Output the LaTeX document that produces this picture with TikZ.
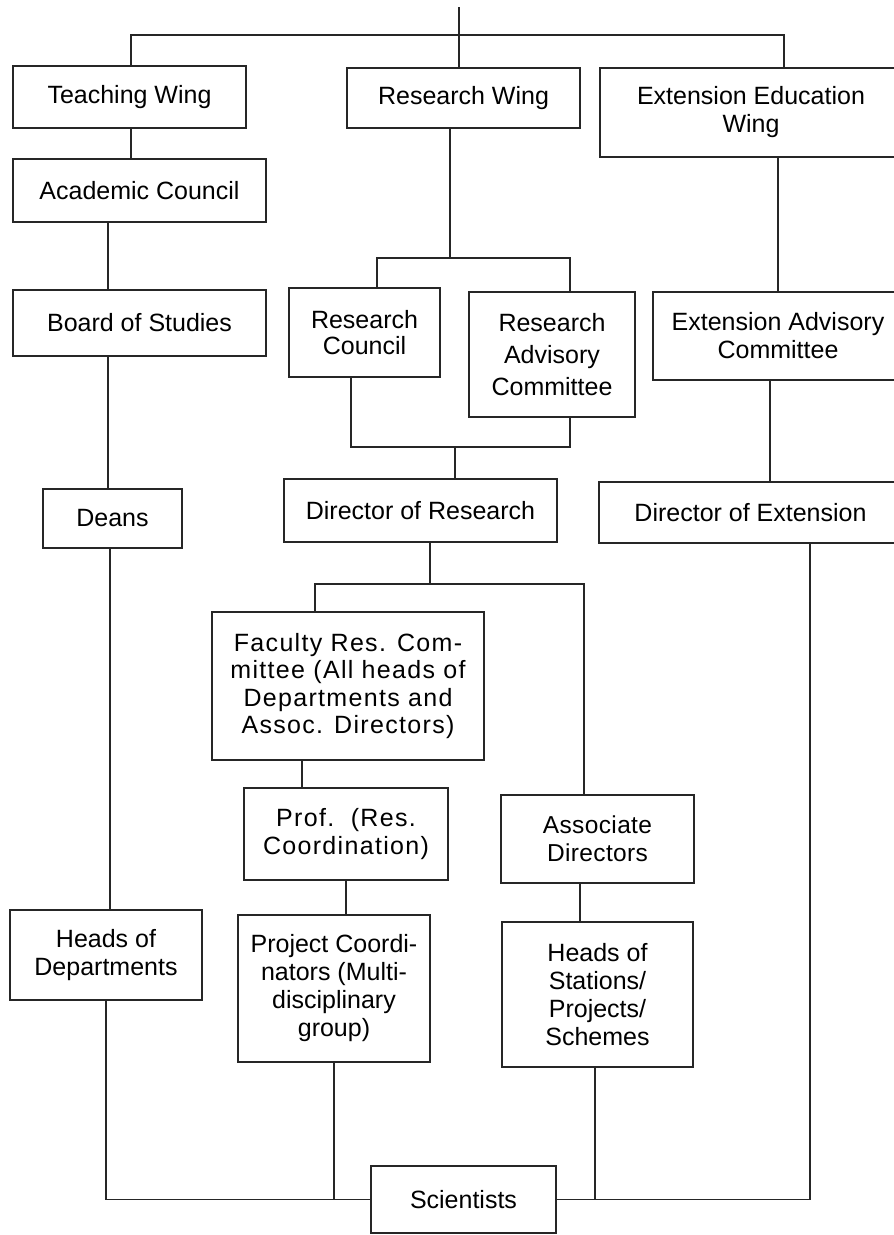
\documentclass[tikz,border=0pt]{standalone}
\usepackage{fontspec}
\setmainfont{Liberation Sans}
\newfontfamily\widefont[LetterSpace=1.5]{Liberation Sans}
\newfontfamily\widerfont[LetterSpace=5.3]{Liberation Sans}
\begin{document}
\begin{tikzpicture}[x=1pt,y=-1pt,
  box/.style={draw=black!85, line width=1.3pt, inner sep=0pt, align=center,
    font=\fontsize{25}{28}\selectfont},
  wbox/.style={box, font=\widefont\fontsize{24.5}{28}\selectfont},
  wwbox/.style={box, font=\widerfont\fontsize{25}{28}\selectfont},
  link/.style={draw=black!85, line width=1.2pt}]
\fill[white] (0,0) rectangle (894,1235);
\useasboundingbox (0,0) rectangle (894,1235);
\clip (0,0) rectangle (894,1235);
% left column
\node[box, minimum width=233, minimum height=62] (tw) at (129.5,97) {Teaching Wing};
\node[box, minimum width=253, minimum height=63] (ac) at (139.5,190.5) {Academic Council};
\node[box, minimum width=253, minimum height=66] (bs) at (139.5,323) {Board of Studies};
\node[box, minimum width=139, minimum height=59] (dn) at (112.5,518.5) {Deans};
\node[box, minimum width=192, minimum height=90] (hd) at (106,955) {Heads of\\Departments};
% middle column
\node[box, minimum width=233, minimum height=60] (rw) at (463.5,98) {Research Wing};
\node[box, minimum width=151, minimum height=89, font=\fontsize{25}{26}\selectfont] (rc) at (364.5,332.5) {Research\\Council};
\node[box, minimum width=166, minimum height=125] (rac) at (552,354.5) {Research\\[4pt]Advisory\\[4pt]Committee};
\node[box, minimum width=273, minimum height=63] (dr) at (420.5,510.5) {Director of Research};
\node[wwbox, minimum width=272, minimum height=148, font=\widerfont\fontsize{25}{27.5}\selectfont] (frc) at (348,686) {Faculty Res. Com-\\mittee (All heads of\\Departments and\\Assoc. Directors)};
\node[wwbox, minimum width=204, minimum height=92] (prof) at (346,834) {Prof.\ \ (Res.\\Coordination)};
\node[wbox, minimum width=193, minimum height=88] (ad) at (597.5,839) {Associate\\Directors};
\node[box, minimum width=192, minimum height=147] (pc) at (334,988.5) {Project Coordi-\\nators (Multi-\\disciplinary\\group)};
\node[box, minimum width=191, minimum height=145] (hs) at (597.5,994.5) {Heads of\\Stations/\\Projects/\\Schemes};
\node[box, minimum width=185, minimum height=67] (sc) at (463.5,1199.5) {Scientists};
% right column (runs off the page edge)
\node[box, minimum width=302, minimum height=89] (ew) at (751,112.5) {Extension Education\\Wing};
\node[box, minimum width=250, minimum height=88] (eac) at (778,336) {Extension Advisory\\Committee};
\node[box, minimum width=303, minimum height=61] (de) at (750.5,512.5) {Director of Extension};
% connectors
\coordinate (top) at (459,7);
\coordinate (j1) at (459,35);
\draw[link] (top) -- (j1);
\draw[link] ([xshift=1.5pt]tw.north) |- (j1) -| ([xshift=33pt]ew.north);
\draw[link] (j1) -- (j1 |- rw.north);
\draw[link] ([xshift=1.5pt]tw.south) -- ([xshift=1.5pt]tw.south |- ac.north);
\draw[link] ([xshift=-31.5pt]ac.south) -- ([xshift=-31.5pt]bs.north);
\draw[link] ([xshift=-31.5pt]bs.south) -- ([xshift=-31.5pt]bs.south |- dn.north);
\draw[link] ([xshift=-2.5pt]dn.south) -- ([xshift=-2.5pt]dn.south |- hd.north);
\draw[link] (hd.south) |- (sc.west);
\coordinate (j2) at (450,258);
\draw[link] ([xshift=-13.5pt]rw.south) -- (j2);
\draw[link] ([xshift=12.5pt]rc.north) |- (j2) -| ([xshift=18pt]rac.north);
\draw[link] (ew.south -| eac.north) -- (eac.north);
\draw[link] ([xshift=-8pt]eac.south) -- ([xshift=-8pt]eac.south |- de.north);
\draw[link] ([xshift=59.5pt]de.south) |- (sc.east);
\coordinate (j3) at (455,447);
\draw[link] ([xshift=-13.5pt]rc.south) |- (j3) -| ([xshift=18pt]rac.south);
\draw[link] (j3) -- (j3 |- dr.north);
\coordinate (j4) at (430,584);
\draw[link] ([xshift=9.5pt]dr.south) -- (j4);
\draw[link] ([xshift=-33pt]frc.north) |- (j4) -| ([xshift=-13.5pt]ad.north);
\draw[link] ([xshift=-46pt]frc.south) -- ([xshift=-46pt]frc.south |- prof.north);
\draw[link] (prof.south) -- (prof.south |- pc.north);
\draw[link] (pc.south) |- (sc.west);
\draw[link] ([xshift=-17.5pt]ad.south) -- ([xshift=-17.5pt]ad.south |- hs.north);
\draw[link] ([xshift=-2.5pt]hs.south) |- (sc.east);
\end{tikzpicture}
\end{document}
